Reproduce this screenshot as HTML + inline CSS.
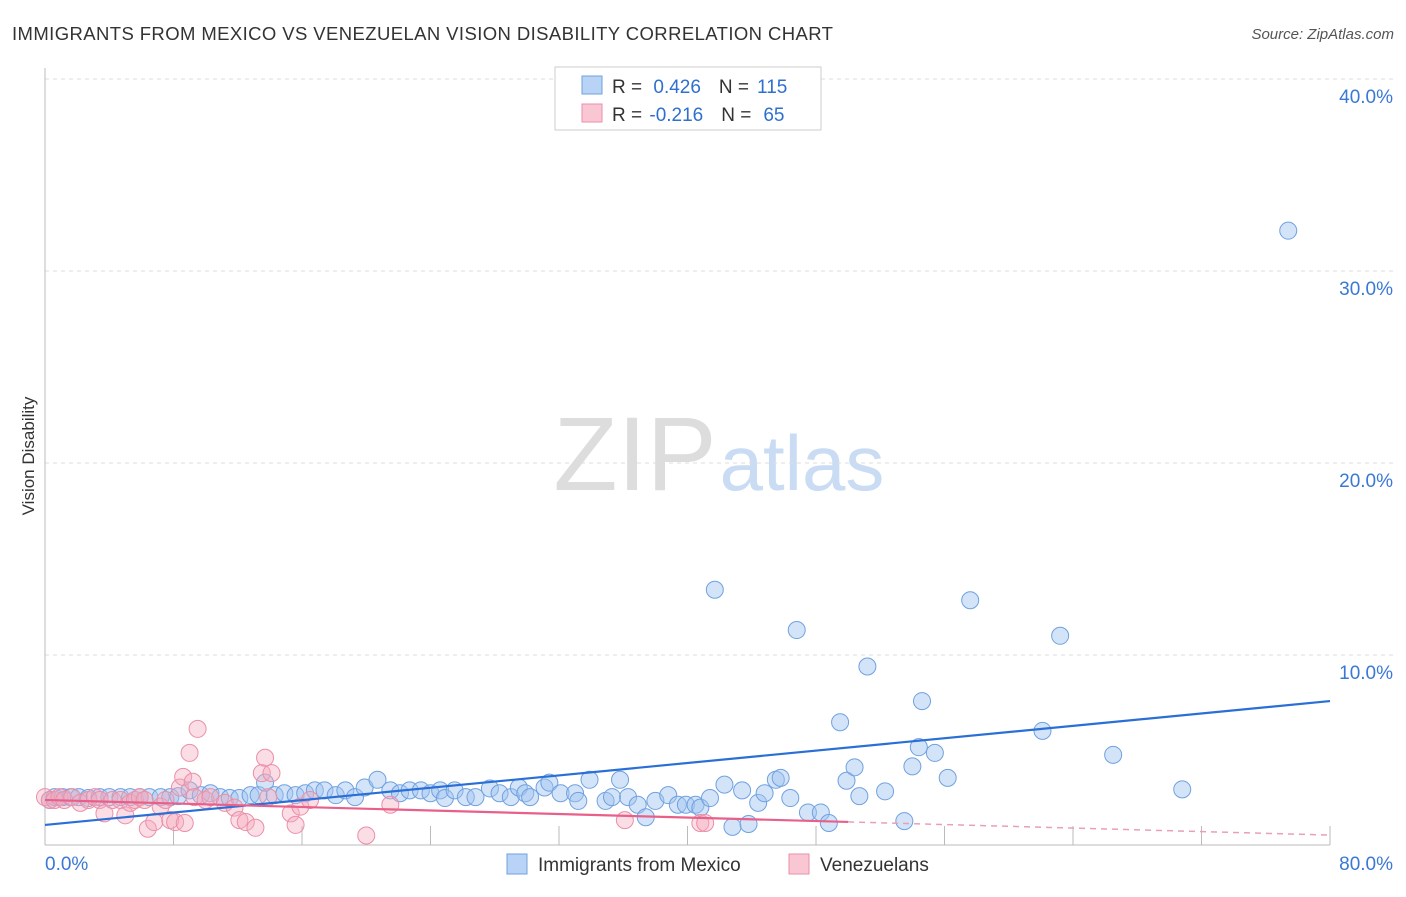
<!DOCTYPE html>
<html><head><meta charset="utf-8"><style>
body{margin:0;background:#fff;font-family:"Liberation Sans",sans-serif}
svg text{font-family:"Liberation Sans",sans-serif}
</style></head><body>
<svg id="c" width="1406" height="892" xmlns="http://www.w3.org/2000/svg">
<text x="12" y="40" font-size="18.5" letter-spacing="0.4" fill="#333">IMMIGRANTS FROM MEXICO VS VENEZUELAN VISION DISABILITY CORRELATION CHART</text>
<text x="1394" y="39" font-size="15" fill="#555" font-style="italic" text-anchor="end">Source: ZipAtlas.com</text>
<text x="34" y="456" font-size="17" fill="#333" text-anchor="middle" transform="rotate(-90 34 456)">Vision Disability</text>
<g><text x="635" y="490" font-size="105" fill="#ddd" font-family="Liberation Serif,serif" text-anchor="middle">ZIP</text><text x="802" y="490" font-size="78" fill="#c9dcf3" text-anchor="middle">atlas</text></g>
<g id="grid"></g><g id="axes"></g><g id="pts"></g><g id="trend"></g>
<g>
<rect x="555" y="67" width="266" height="63" fill="#fff" stroke="#ccc"/>
<rect x="582" y="76" width="20" height="18" fill="#b8d3f5" stroke="#6fa1e0"/>
<rect x="582" y="104" width="20" height="18" fill="#f9c6d4" stroke="#eb8fa8"/>
<text x="612" y="93" font-size="19" fill="#333">R = <tspan fill="#2f6fcf" dx="6">0.426</tspan><tspan dx="18">N =</tspan><tspan fill="#2f6fcf" dx="8">115</tspan></text>
<text x="612" y="121" font-size="19" fill="#333">R = <tspan fill="#2f6fcf" dx="2">-0.216</tspan><tspan dx="18">N =</tspan><tspan fill="#2f6fcf" dx="12">65</tspan></text>
</g>
<g>
<rect x="507" y="854" width="20" height="20" fill="#b8d3f5" stroke="#6fa1e0"/>
<text x="538" y="871" font-size="19" fill="#333">Immigrants from Mexico</text>
<rect x="789" y="854" width="20" height="20" fill="#f9c6d4" stroke="#eb8fa8"/>
<text x="820" y="871" font-size="19" fill="#333">Venezuelans</text>
</g>
</svg>
<script>
const yTicks=[10,20,30,40];
const xTickLabels=["0.0%","80.0%"];
const blueX=[0.3,0.6,1.1,1.6,2.1,2.7,3.4,4.0,4.7,5.3,5.9,6.5,7.2,7.8,8.3,9.0,9.7,10.3,10.9,11.5,12.1,12.8,13.3,13.7,14.3,14.9,15.6,16.2,16.8,17.4,18.1,18.7,19.3,19.9,20.7,21.5,22.1,22.7,23.4,24.0,24.6,24.9,25.5,26.2,26.8,27.7,28.3,29.0,29.5,29.9,30.2,31.1,31.4,32.1,33.0,33.2,33.9,34.9,35.3,35.8,36.3,36.9,37.4,38.0,38.8,39.4,39.9,40.5,40.8,41.4,41.7,42.3,42.8,43.4,43.8,44.4,44.8,45.5,45.8,46.4,46.8,47.5,48.3,48.8,49.5,49.9,50.4,50.7,51.2,52.3,53.5,54.0,54.4,54.6,55.4,56.2,57.6,62.1,63.2,66.5,70.8,77.4];
const blueY=[2.45,2.6,2.6,2.6,2.6,2.55,2.6,2.6,2.6,2.6,2.6,2.6,2.6,2.6,2.65,2.95,2.7,2.8,2.6,2.55,2.55,2.7,2.7,3.35,2.7,2.8,2.7,2.8,2.95,2.95,2.7,2.95,2.6,3.1,3.5,2.95,2.8,2.95,2.95,2.8,2.95,2.55,2.95,2.6,2.6,3.05,2.8,2.6,3.1,2.8,2.6,3.1,3.35,2.8,2.8,2.4,3.5,2.4,2.6,3.5,2.6,2.2,1.55,2.4,2.7,2.2,2.2,2.2,2.05,2.55,13.4,3.25,1.05,2.95,1.2,2.3,2.8,3.5,3.6,2.55,11.3,1.8,1.8,1.25,6.5,3.45,4.15,2.65,9.4,2.9,1.35,4.2,5.2,7.6,4.9,3.6,12.85,6.05,11.0,4.8,3.0,32.1];
const pinkX=[0,0.3,0.6,0.9,1.2,1.7,2.2,2.7,3.1,3.4,3.7,4.2,4.7,5.0,5.3,5.6,5.9,6.2,6.4,6.8,7.2,7.5,7.8,8.1,8.4,8.6,8.7,9.0,9.2,9.3,9.5,10.0,10.3,11.2,11.8,12.1,12.5,13.1,13.5,13.7,13.9,14.1,15.3,15.6,15.9,16.5,20.0,21.5,36.1,40.8,41.1];
const pinkY=[2.6,2.45,2.45,2.6,2.45,2.6,2.3,2.45,2.6,2.45,1.75,2.45,2.45,1.65,2.3,2.45,2.6,2.45,0.95,1.3,2.1,2.45,1.4,1.3,3.1,3.65,1.25,4.9,3.4,2.6,6.15,2.45,2.6,2.3,2.05,1.4,1.3,1.0,3.85,4.65,2.6,3.85,1.75,1.15,2.1,2.45,0.6,2.2,1.4,1.25,1.25];
const blueTrend=[1.15,7.6];
const pinkTrend=[2.45,0.62];
const pinkSolidEnd=50;
const X0=45,X1=1330,Y0=847,PY=19.2;
const sx=v=>X0+(X1-X0)*v/80, sy=v=>Y0-v*PY;
const NS="http://www.w3.org/2000/svg";
function mk(t,a,p){const e=document.createElementNS(NS,t);for(const k in a)e.setAttribute(k,a[k]);document.getElementById(p).appendChild(e);return e;}
yTicks.forEach(t=>{
 const l=mk('line',{x1:45,x2:1394,y1:sy(t),y2:sy(t),stroke:'#ddd','stroke-dasharray':'4 4'},'grid');
 
 
 const tx=mk('text',{x:1393,y:sy(t)+24,'font-size':19,fill:'#3a78d4','text-anchor':'end'},'grid');
 tx.textContent=t.toFixed(1)+'%';
 
 
});
const ax=mk('line',{x1:45,x2:45,y1:68,y2:845,stroke:'#bbb'},'axes');


const bx=mk('line',{x1:45,x2:1330,y1:845,y2:845,stroke:'#bbb'},'axes');


for(let i=1;i<=10;i++){const t=mk('line',{x1:sx(i*8),x2:sx(i*8),y1:826,y2:845,stroke:'#bbb'},'axes');
 
 }
[[xTickLabels[0],45,'start'],[xTickLabels[1],1393,'end']].forEach(([s,x,a])=>{const t=mk('text',{x:x,y:870,'font-size':19,fill:'#3a78d4','text-anchor':a},'axes');t.textContent=s;
 
 });
blueX.forEach((x,i)=>{const c=mk('circle',{cx:sx(x),cy:sy(blueY[i]),r:8.5,fill:'rgba(160,196,240,0.45)',stroke:'#6fa1e0','stroke-width':1},'pts');
 
 });
pinkX.forEach((x,i)=>{const c=mk('circle',{cx:sx(x),cy:sy(pinkY[i]),r:8.5,fill:'rgba(245,170,190,0.4)',stroke:'#eb8fa8','stroke-width':1},'pts');
 
 });
const bl=mk('line',{x1:sx(0),y1:sy(blueTrend[0]),x2:sx(80),y2:sy(blueTrend[1]),stroke:'#2a6fd6','stroke-width':2.2},'trend');


const pe=pinkTrend[0]+(pinkTrend[1]-pinkTrend[0])*pinkSolidEnd/80;
const pl=mk('line',{x1:sx(0),y1:sy(pinkTrend[0]),x2:sx(pinkSolidEnd),y2:sy(pe),stroke:'#e8608a','stroke-width':2.2},'trend');


const pd=mk('line',{x1:sx(pinkSolidEnd),y1:sy(pe),x2:sx(80),y2:sy(pinkTrend[1]),stroke:'#e8a0b5','stroke-width':1.5,'stroke-dasharray':'6 5'},'trend');


</script>
</body></html>
